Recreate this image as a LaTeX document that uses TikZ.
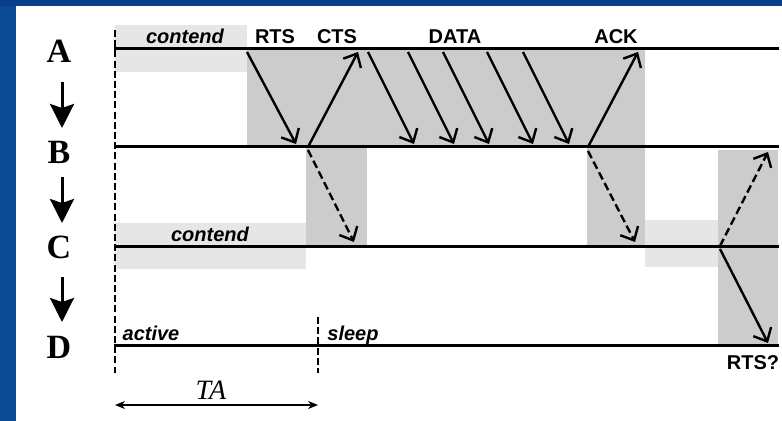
\documentclass[tikz,border=0pt]{standalone}
\usepackage{fontspec}
\setmainfont{Liberation Sans}
\newfontfamily\timesfont{Liberation Serif}
\usetikzlibrary{arrows.meta}
\definecolor{frameblue}{HTML}{0B4A94}
\definecolor{frametop}{HTML}{073F88}
\definecolor{busy}{HTML}{CCCCCC}
\definecolor{waiting}{HTML}{E6E6E6}

\begin{document}
\begin{tikzpicture}[x=0.5pt,y=-0.5pt,
  timeline/.style={line width=1.5pt},
  boundary/.style={line width=1.2pt,dash pattern=on 3.5pt off 1.6pt},
  msg/.style={line width=1.2pt,-{Straight Barb[length=5.5pt,width=10pt]}},
  msgdash/.style={msg,dash pattern=on 4pt off 2pt},
  hop/.style={line width=1.5pt,-{Stealth[length=12pt,width=12pt,inset=2pt]}},
  station/.style={font=\timesfont\fontsize{17}{20}\selectfont\bfseries,inner sep=0pt,anchor=base},
  pkt/.style={font=\fontsize{10}{12}\selectfont\bfseries,inner sep=0pt,anchor=base},
  state/.style={font=\fontsize{10}{12}\selectfont\bfseries\itshape,inner sep=0pt,anchor=base}]

% slide frame and page
\useasboundingbox (0,0) rectangle (782,421);
\fill[frameblue] (0,0) rectangle (782,421);
\fill[frametop] (0,0) rectangle (782,6);
\fill[white] (16,6) rectangle (782,421);

% contention windows
\fill[waiting] (115,25) rectangle (247,72);
\fill[waiting] (115,223) rectangle (306,269);
\fill[waiting] (645,220) rectangle (718,267);

% busy medium
\fill[busy] (247,49) rectangle (645,147);
\fill[busy] (306,147) rectangle (367,247);
\fill[busy] (587,147) rectangle (645,247);
\fill[busy] (718,150) rectangle (778,346);

% station timelines
\coordinate (A0) at (114,49);  \coordinate (A1) at (779,49);
\coordinate (B0) at (114,147); \coordinate (B1) at (779,147);
\coordinate (C0) at (114,247); \coordinate (C1) at (779,247);
\coordinate (D0) at (114,346); \coordinate (D1) at (779,346);
\draw[timeline] (A0) -- (A1);
\draw[timeline] (B0) -- (B1);
\draw[timeline] (C0) -- (C1);
\draw[timeline] (D0) -- (D1);

% active period boundaries
\coordinate (t0top) at (115,30);  \coordinate (t0bot) at (115,373);
\coordinate (t1top) at (318,317); \coordinate (t1bot) at (318,373);
\draw[boundary] (t0top) -- (t0bot);
\draw[boundary] (t1top) -- (t1bot);

% station names and hop arrows
\node[station] (nA) at (59,63) {A};
\node[station] (nB) at (59,164) {B};
\node[station] (nC) at (59,259) {C};
\node[station] (nD) at (59,359) {D};
\coordinate (h1s) at (62,82);  \coordinate (h1e) at (62,128);
\coordinate (h2s) at (62,177); \coordinate (h2e) at (62,223);
\coordinate (h3s) at (62,277); \coordinate (h3e) at (62,322);
\draw[hop] (h1s) -- (h1e);
\draw[hop] (h2s) -- (h2e);
\draw[hop] (h3s) -- (h3e);

% RTS / CTS exchange
\coordinate (rtsS) at (247,52);  \coordinate (rtsE) at (296,144);
\coordinate (ctsS) at (308,147); \coordinate (ctsE) at (358,52);
\coordinate (ctsC) at (308,150); \coordinate (ctsCE) at (354,242);
\draw[msg] (rtsS) -- (rtsE);
\draw[msg] (ctsS) -- (ctsE);
\draw[msgdash] (ctsC) -- (ctsCE);

% data fragments
\foreach \i/\x in {1/368,2/408,3/443,4/487,5/523}{
  \coordinate (d\i S) at (\x,52);
  \coordinate (d\i E) at (\x+46,144);
  \draw[msg] (d\i S) -- (d\i E);
}

% acknowledgement
\coordinate (ackS) at (588,147); \coordinate (ackE) at (638,52);
\coordinate (ackC) at (588,151); \coordinate (ackCE) at (635,242);
\draw[msg] (ackS) -- (ackE);
\draw[msgdash] (ackC) -- (ackCE);

% C forwards
\coordinate (cbS) at (720,246); \coordinate (cbE) at (768,152);
\coordinate (cdS) at (720,249); \coordinate (cdE) at (768,343);
\draw[msgdash] (cbS) -- (cbE);
\draw[msg] (cdS) -- (cdE);

% labels
\node[state] (lcontA) at (185,44) {contend};
\node[pkt] (lrts) at (275,44) {RTS};
\node[pkt] (lcts) at (337,44) {CTS};
\node[pkt] (ldata) at (455,44) {DATA};
\node[pkt] (lack) at (616,44) {ACK};
\node[state] (lcontC) at (210,242) {contend};
\node[state] (lactive) at (151,341) {active};
\node[state] (lsleep) at (353,341) {sleep};
\node[pkt] (lrtsq) at (753,370) {RTS?};

% active interval
\coordinate (taL) at (115,405); \coordinate (taR) at (318,405);
\draw[line width=1pt,{Stealth[length=5pt,width=4pt]}-{Stealth[length=5pt,width=4pt]}] (taL) -- (taR);
\node[font=\timesfont\fontsize{14}{16}\selectfont\itshape,inner sep=0pt,anchor=base] (lta) at (211,400) {TA};
\end{tikzpicture}
\end{document}
